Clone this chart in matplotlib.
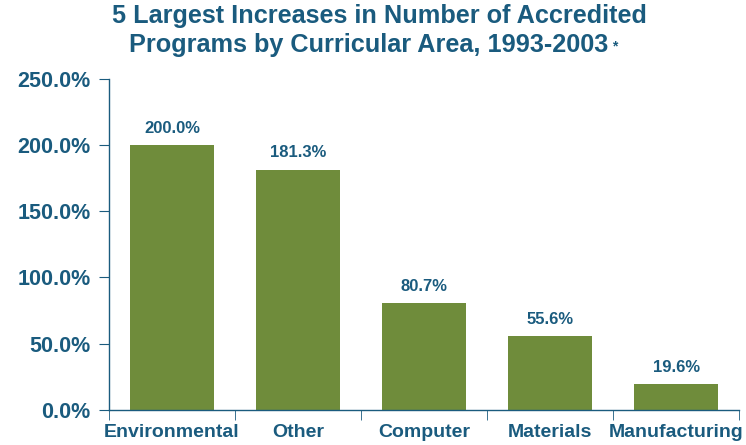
import matplotlib.pyplot as plt
from matplotlib.ticker import FixedLocator

# chart data
categories = ['Environmental', 'Other', 'Computer', 'Materials', 'Manufacturing']
increases = [200.0, 181.3, 80.7, 55.6, 19.6]   # percent increase
y_ticks = [0, 50, 100, 150, 200, 250]

bar_color = '#6f8c3b'
text_color = '#1a5b7e'

plt.rcParams['font.family'] = ['Liberation Sans', 'DejaVu Sans']
plt.rcParams['font.weight'] = 'bold'

fig = plt.figure(figsize=(7.46, 4.45), dpi=100)
ax = fig.add_axes([0.146, 0.079, 0.845, 0.744])

x = range(len(categories))
ax.bar(x, increases, width=0.667, color=bar_color)

for i, v in enumerate(increases):   # value labels above bars
    ax.text(i, v + 7, f'{v:.1f}%', ha='center', va='bottom',
            fontsize=12, color=text_color, fontweight='bold')

ax.set_xlim(-0.5, len(categories) - 0.5)
ax.set_ylim(0, 250)
ax.set_yticks(y_ticks)
ax.set_yticklabels([f'{t:.1f}%' for t in y_ticks])
ax.set_xticks(list(x))
ax.set_xticklabels(categories)
ax.xaxis.set_minor_locator(FixedLocator([i - 0.5 for i in range(len(categories) + 1)]))

ax.tick_params(axis='x', which='major', length=0, pad=10, labelsize=14, labelcolor=text_color)
ax.tick_params(axis='x', which='minor', length=7, color=text_color)
ax.tick_params(axis='y', length=7, color=text_color, labelsize=15.5, labelcolor=text_color, pad=6)

for s in ['top', 'right']:
    ax.spines[s].set_visible(False)
for s in ['left', 'bottom']:
    ax.spines[s].set_color(text_color)
    ax.spines[s].set_linewidth(1.0)

# title with small superscript asterisk
fig.text(0.508, 0.99, '5 Largest Increases in Number of Accredited', ha='center', va='top',
         fontsize=18.2, color=text_color, fontweight='bold')
line2 = fig.text(0.494, 0.925, 'Programs by Curricular Area, 1993-2003', ha='center', va='top',
                 fontsize=18.2, color=text_color, fontweight='bold')
fig.canvas.draw()
bb = line2.get_window_extent()
fig.text((bb.x1 + 4) / fig.bbox.width, 0.912, '*', ha='left', va='top',
         fontsize=10, color=text_color, fontweight='bold')

fig.savefig('out.png', dpi=100)
